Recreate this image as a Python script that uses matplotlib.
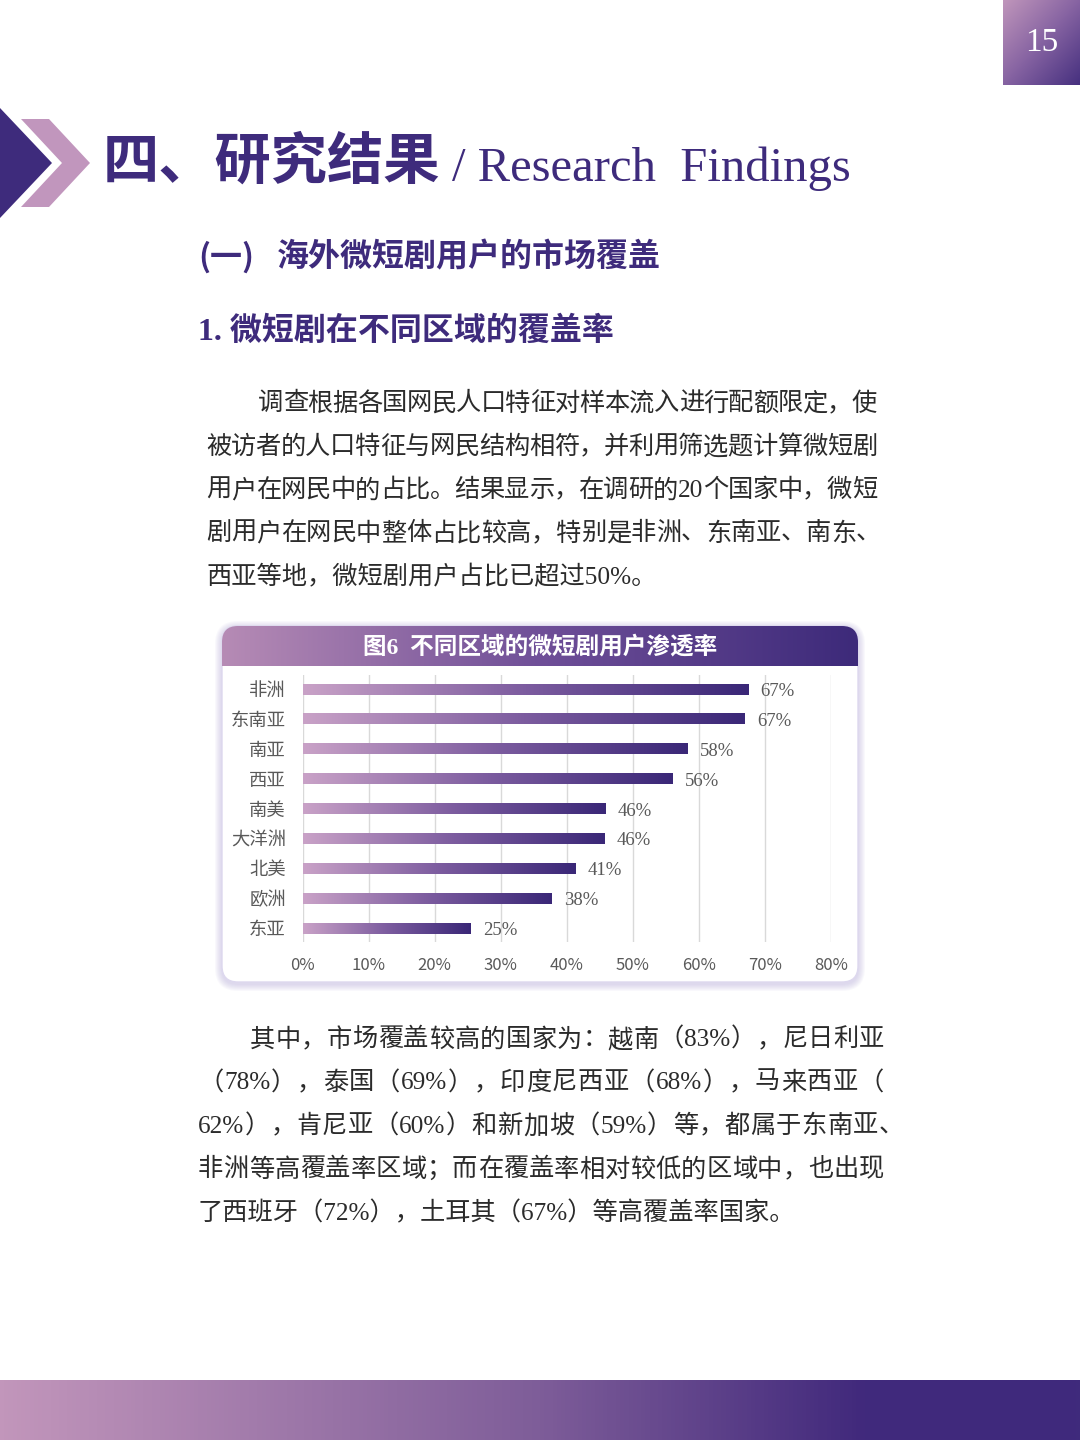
import re

import numpy as np
import matplotlib
matplotlib.use("Agg")
import matplotlib.pyplot as plt
from matplotlib.colors import LinearSegmentedColormap
from matplotlib.patches import FancyBboxPatch, Polygon

# chart data
regions = ["非洲", "东南亚", "南亚", "西亚", "南美", "大洋洲", "北美", "欧洲", "东亚"]
coverage = [67.4, 66.9, 58.2, 56.0, 45.8, 45.6, 41.2, 37.7, 25.4]
x_ticks = [0, 10, 20, 30, 40, 50, 60, 70, 80]

# page text
chart_title = "图6  不同区域的微短剧用户渗透率"
page_heading = "四、研究结果"
page_heading_en = "/ Research  Findings"
section_mark = "(一)"
section_title = "海外微短剧用户的市场覆盖"
subsection_title = "1. 微短剧在不同区域的覆盖率"
page_number = "15"
para1_lines = [
    "调查根据各国网民人口特征对样本流入进行配额限定，使",
    "被访者的人口特征与网民结构相符，并利用筛选题计算微短剧",
    "用户在网民中的占比。结果显示，在调研的20个国家中，微短",
    "剧用户在网民中整体占比较高，特别是非洲、东南亚、南东、",
    "西亚等地，微短剧用户占比已超过50%。",
]
para2_lines = [
    "其中，市场覆盖较高的国家为：越南（83%），尼日利亚",
    "（78%），泰国（69%），印度尼西亚（68%），马来西亚（",
    "62%），肯尼亚（60%）和新加坡（59%）等，都属于东南亚、",
    "非洲等高覆盖率区域；而在覆盖率相对较低的区域中，也出现",
    "了西班牙（72%），土耳其（67%）等高覆盖率国家。",
]

PURPLE = "#3e2b7c"
MAUVE = "#c196bd"
TEXT = "#2b2b2b"
GRAY = "#595959"
MIXED = ["Liberation Serif", "Noto Sans CJK SC"]
CJK = ["Noto Sans CJK SC", "DejaVu Sans"]
BODY = dict(fontsize=18.2, family=MIXED, color=TEXT, va="center", ha="left")

bar_cmap = LinearSegmentedColormap.from_list("bar", ["#c9a2c7", "#7c5c9f", "#3a2777"])
band_cmap = LinearSegmentedColormap.from_list(
    "band", [(0, "#c296bb"), (0.5, "#7e5d99"), (0.8, "#41297c"), (1, "#3f2a7c")])
hdr_cmap = LinearSegmentedColormap.from_list("hdr", ["#b68bb5", "#6f4f98", "#3d2a7a"])
box_cmap = LinearSegmentedColormap.from_list("box", ["#c096bb", "#8663a2", "#46307f"])

fig = plt.figure(figsize=(10.8, 14.4), dpi=100)
renderer = fig.canvas.get_renderer()
bg = fig.add_axes([0, 0, 1, 1])
bg.set_xlim(0, 1080)
bg.set_ylim(1440, 0)
bg.axis("off")


def text_width(s):
    t = bg.text(0, 0, s, **BODY)
    w = t.get_window_extent(renderer).width
    t.remove()
    return w


def draw_line(line, x_left, y, x_right=None):
    # spread the glyphs so the line fills the column, like the typeset page
    if x_right is None:
        bg.text(x_left, y, line, **BODY)
        return
    tokens = re.findall(r"[A-Za-z0-9%.]+|.", line)
    widths = [text_width(t) for t in tokens]
    gap = (x_right - x_left - sum(widths)) / (len(tokens) - 1)
    x = x_left
    for tok, w in zip(tokens, widths):
        bg.text(x, y, tok, **BODY)
        x += w + gap


# page number box
g = np.linspace(0, 1, 128)
diag = (g[None, :] + g[:, None]) / 2
bg.imshow(diag, extent=(1003, 1080, 85, 0), cmap=box_cmap, aspect="auto", zorder=1)
bg.text(1042, 43, page_number, family="Liberation Serif", fontsize=24,
        color="white", ha="center", va="center", zorder=2)

# chevrons
bg.add_patch(Polygon([(0, 108), (52, 163), (0, 218)], closed=True,
                     color=PURPLE, lw=0, zorder=1))
bg.add_patch(Polygon([(21, 119), (49, 119), (90, 163), (49, 207), (21, 207), (62, 163)],
                     closed=True, color=MAUVE, lw=0, zorder=1))

# headings
bg.text(103, 162, page_heading, fontsize=40.5, weight=900, family=CJK,
        color=PURPLE, va="center", ha="left")
bg.text(452, 181, page_heading_en, fontsize=35, family="Liberation Serif",
        color=PURPLE, va="baseline", ha="left")
bg.text(198, 257, section_mark, fontsize=23, weight="bold", family=CJK,
        color=PURPLE, va="center", ha="left")
bg.text(277, 257, section_title, fontsize=23, weight="bold", family=CJK,
        color=PURPLE, va="center", ha="left")
bg.text(198, 332, subsection_title, fontsize=23, weight="bold", family=MIXED,
        color=PURPLE, va="center", ha="left")

# body paragraphs
para1_right = [877, 877, 877, 881, None]
for i, line in enumerate(para1_lines):
    draw_line(line, 258 if i == 0 else 206, 404 + i * 43.3, para1_right[i])
para2_right = [884, 884, 904, 884, None]
for i, line in enumerate(para2_lines):
    draw_line(line, 250 if i == 0 else 198, 1040 + i * 43.3, para2_right[i])

# chart card with soft shadow
for k in range(1, 8):
    bg.add_patch(FancyBboxPatch((222 - k, 626 - k + 2), 636 + 2 * k, 356 + 2 * k,
                                boxstyle=f"round,pad=0,rounding_size={16 + k}",
                                color="#b3a9d8", alpha=0.07, lw=0, zorder=1))
card = FancyBboxPatch((222, 626), 636, 356, boxstyle="round,pad=0,rounding_size=16",
                      facecolor="white", edgecolor="#ddd8ee", lw=1, zorder=2)
bg.add_patch(card)
hdr = bg.imshow(np.linspace(0, 1, 256)[None, :], extent=(222, 858, 666, 626),
                cmap=hdr_cmap, aspect="auto", zorder=3)
hdr.set_clip_path(card)
bg.text(540, 647, chart_title, fontsize=17, weight="bold", family=MIXED,
        color="white", ha="center", va="center", zorder=4)

# footer band
bg.imshow(np.linspace(0, 1, 256)[None, :], extent=(0, 1080, 1440, 1380),
          cmap=band_cmap, aspect="auto", zorder=1)
bg.set_xlim(0, 1080)
bg.set_ylim(1440, 0)

# bar chart
ax = fig.add_axes([302.6 / 1080, (1440 - 942) / 1440, (830.8 - 302.6) / 1080, 267 / 1440])
ax.patch.set_alpha(0)
ys = np.arange(len(regions))
bars = ax.barh(ys, coverage, height=0.37, color="none", edgecolor="none", zorder=3)
grad = np.linspace(0, 1, 256).reshape(1, -1)
for bar in bars:
    x0, y0 = bar.get_x(), bar.get_y()
    w, h = bar.get_width(), bar.get_height()
    im = ax.imshow(grad, extent=(x0, x0 + w, y0 + h, y0), cmap=bar_cmap,
                   aspect="auto", interpolation="bicubic", zorder=3)
    im.set_clip_path(bar)

for y, v in zip(ys, coverage):
    ax.text(v + 1.9, y + 0.08, f"{v:.0f}%", family="Liberation Serif", fontsize=13.5,
            color=GRAY, va="center", ha="left")

ax.set_xlim(0, 80)
ax.set_ylim(8.46, -0.47)
ax.set_xticks(x_ticks)
ax.set_xticklabels([f"{t}%" for t in x_ticks], family=CJK, fontsize=12, color=GRAY)
ax.set_yticks(ys)
ax.set_yticklabels(regions, family=CJK, fontsize=13.2, color=GRAY)
ax.grid(axis="x", color="#d9d9d9", lw=1)
ax.set_axisbelow(True)
ax.tick_params(axis="x", length=0, pad=11)
ax.tick_params(axis="y", length=0, pad=12)
for s in ax.spines.values():
    s.set_visible(False)

fig.savefig("out.png", dpi=100)
